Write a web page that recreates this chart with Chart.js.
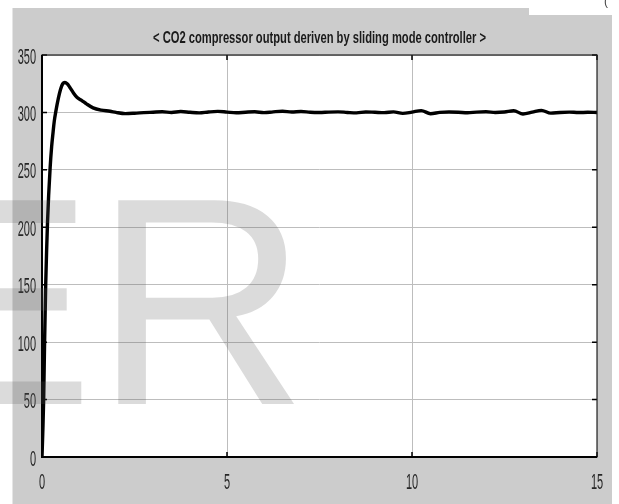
<!DOCTYPE html>
<html>
<head>
<meta charset="utf-8">
<style>
  html, body { margin: 0; padding: 0; background: #fff; }
  #wrap { width: 619px; height: 504px; position: relative; }
</style>
<script src="https://cdn.jsdelivr.net/npm/chart.js@4"></script>
</head>
<body>
<div id="wrap"><canvas id="scopeChart"></canvas></div>
<script>
const chartTitle = '< CO2 compressor output deriven by sliding mode controller >';

// time (s) and compressor output
const times = [
  0, 0.02, 0.045, 0.07, 0.10, 0.125, 0.15, 0.18, 0.22, 0.26, 0.30, 0.33, 0.38,
  0.44, 0.50, 0.56, 0.62, 0.68, 0.75, 0.85, 0.95, 1.07, 1.2, 1.38, 1.6, 1.84,
  2.0, 2.25, 2.5, 2.75, 3.0, 3.25, 3.5, 3.75, 4.0, 4.25, 4.5, 4.75, 5.0,
  5.25, 5.5, 5.75, 6.0, 6.25, 6.5, 6.75, 7.0, 7.25, 7.5, 7.75, 8.0, 8.25,
  8.5, 8.75, 9.0, 9.25, 9.5, 9.75, 10.0, 10.25, 10.5, 10.75, 11.0, 11.25,
  11.5, 11.75, 12.0, 12.25, 12.5, 12.75, 13.0, 13.25, 13.5, 13.75, 14.0,
  14.25, 14.5, 14.75, 15.0
];
const outputValues = [
  0, 20, 50, 100, 150, 180, 205, 228, 252, 270, 283, 292, 302,
  312, 320, 325, 326, 325, 322, 317, 313, 310.5, 307.5, 304, 302, 301,
  300, 299.0, 299.3, 299.8, 300.2, 300.6, 300.0, 300.8, 300.1, 299.6, 300.4, 300.9, 300.3,
  299.7, 300.2, 300.6, 299.8, 300.5, 301.0, 300.4, 300.8, 300.1, 299.9, 300.3, 300.5, 300.0,
  299.6, 300.4, 300.1, 299.8, 300.5, 299.2, 300.3, 301.6, 298.9, 300.0, 300.4, 300.2,
  299.7, 300.3, 300.6, 300.0, 300.4, 301.5, 298.6, 300.2, 301.8, 299.4, 300.0,
  300.3, 299.9, 300.1, 300.0
];

const xMin = 0, xMax = 15, xStep = 5;
const yMin = 0, yMax = 350, yStep = 50;

const points = times.map((t, i) => ({ x: t, y: outputValues[i] }));

// the scope picture is squeezed sideways, so text is drawn narrow
function narrowText(ctx, text, x, y, font, squeeze, align) {
  ctx.save();
  ctx.font = font;
  ctx.textBaseline = 'middle';
  ctx.textAlign = align;
  ctx.translate(x, y);
  ctx.scale(squeeze, 1);
  ctx.fillText(text, 0, 0);
  ctx.restore();
}

const scopeFrame = {
  id: 'scopeFrame',
  beforeDraw(chart) {
    const { ctx, chartArea: a } = chart;
    ctx.save();
    ctx.fillStyle = '#ffffff';
    ctx.fillRect(0, 0, chart.width, chart.height);
    // grey figure panel
    ctx.fillStyle = '#cccccc';
    ctx.fillRect(12.5, 8, 599.5, chart.height - 8);
    ctx.fillStyle = '#ffffff';
    ctx.fillRect(529, 0, 90, 15);
    // white axes
    ctx.fillRect(a.left, a.top, a.right - a.left, a.bottom - a.top);
    ctx.restore();
  },
  afterDraw(chart) {
    const { ctx, chartArea: a, scales } = chart;
    ctx.save();
    // inward tick marks
    ctx.strokeStyle = '#000';
    ctx.lineWidth = 1.5;
    ctx.beginPath();
    scales.y.ticks.forEach(t => {
      const py = scales.y.getPixelForValue(t.value);
      ctx.moveTo(a.left, py); ctx.lineTo(a.left + 5, py);
      ctx.moveTo(a.right, py); ctx.lineTo(a.right - 5, py);
    });
    scales.x.ticks.forEach(t => {
      const px = scales.x.getPixelForValue(t.value);
      ctx.moveTo(px, a.bottom); ctx.lineTo(px, a.bottom - 5);
      ctx.moveTo(px, a.top); ctx.lineTo(px, a.top + 5);
    });
    ctx.stroke();
    // box
    ctx.lineWidth = 1.2;
    ctx.strokeStyle = '#222';
    ctx.strokeRect(a.left, a.top, a.right - a.left, a.bottom - a.top);
    ctx.lineWidth = 2;
    ctx.strokeStyle = '#000';
    ctx.beginPath();
    ctx.moveTo(a.left, a.top); ctx.lineTo(a.left, a.bottom); ctx.lineTo(a.right, a.bottom);
    ctx.stroke();

    // tick labels from the scales
    const tickFont = "22px 'Liberation Sans', Arial, sans-serif";
    ctx.fillStyle = '#262626';
    scales.y.ticks.forEach(t => {
      narrowText(ctx, String(t.value), a.left - 6, scales.y.getPixelForValue(t.value) + 2.5, tickFont, 0.5, 'right');
    });
    scales.x.ticks.forEach(t => {
      narrowText(ctx, String(t.value), scales.x.getPixelForValue(t.value), 483, tickFont, 0.5, 'center');
    });

    // title, squeezed to the reference width
    const titleFont = "bold 16px 'Liberation Sans', Arial, sans-serif";
    ctx.fillStyle = '#1a1a1a';
    ctx.font = titleFont;
    const tw = ctx.measureText(chartTitle).width;
    narrowText(ctx, chartTitle, (a.left + a.right) / 2, 39, titleFont, 333 / tw, 'center');

    // stray glyph in the top-right corner
    ctx.font = "12px 'Liberation Sans', sans-serif";
    ctx.textAlign = 'left';
    ctx.textBaseline = 'alphabetic';
    ctx.fillStyle = '#444';
    ctx.fillText('(', 604, 5);

    // watermark
    ctx.font = "296px 'Liberation Sans', Arial, sans-serif";
    ctx.fillStyle = 'rgba(90, 90, 90, 0.22)';
    const wE = ctx.measureText('E').width;
    ctx.fillText('ER', 94 - wE, 404);
    ctx.restore();
  }
};

const ctx = document.getElementById('scopeChart').getContext('2d');
const chart = new Chart(ctx, {
  type: 'line',
  data: {
    datasets: [{
      label: 'Compressor output',
      data: points,
      borderColor: '#000000',
      borderWidth: 3.4,
      pointRadius: 0,
      fill: false,
      cubicInterpolationMode: 'monotone'
    }]
  },
  options: {
    responsive: true,
    maintainAspectRatio: false,
    animation: false,
    layout: { padding: { top: 55, right: 22, left: 0, bottom: 0 } },
    plugins: {
      legend: { display: false },
      tooltip: { enabled: false },
      title: { display: false }
    },
    scales: {
      x: {
        type: 'linear',
        min: xMin,
        max: xMax,
        afterFit: s => { s.height = 47; },
        ticks: { stepSize: xStep, display: false },
        grid: { color: '#bdbdbd', lineWidth: 1, drawTicks: false },
        border: { display: false }
      },
      y: {
        min: yMin,
        max: yMax,
        afterFit: s => { s.width = 42; },
        ticks: { stepSize: yStep, display: false },
        grid: { color: '#bdbdbd', lineWidth: 1, drawTicks: false },
        border: { display: false }
      }
    }
  },
  plugins: [scopeFrame]
});
</script>
</body>
</html>
